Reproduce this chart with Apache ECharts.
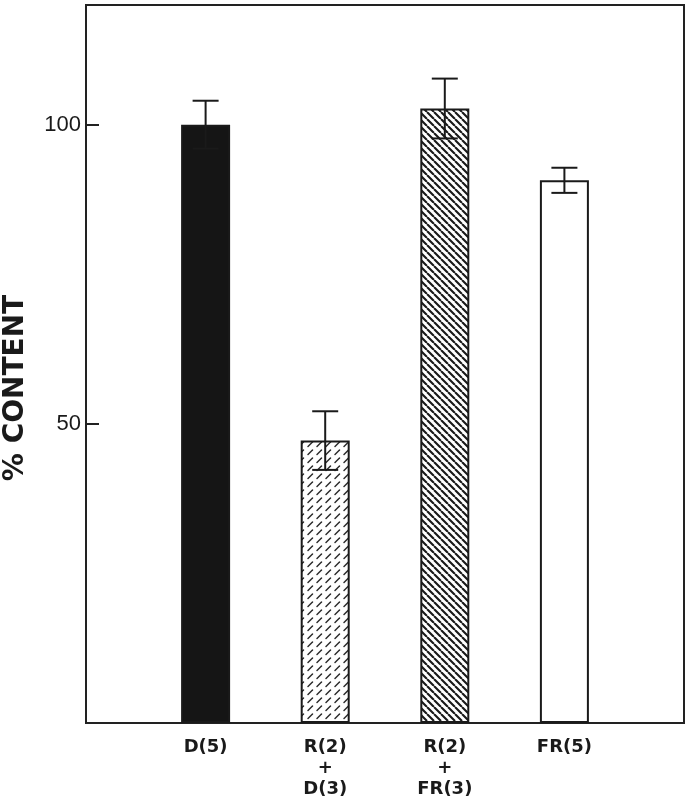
<!DOCTYPE html>
<html>
<head>
<meta charset="utf-8">
<script src="https://cdn.jsdelivr.net/npm/echarts@6/dist/echarts.min.js"></script>
<style>
html,body{margin:0;padding:0;background:#fff;}
#chart{width:691px;height:802px;}
</style>
</head>
<body>
<div id="chart"></div>
<script>
// Data
const categories = ['D(5)', 'R(2)\n+\nD(3)', 'R(2)\n+\nFR(3)', 'FR(5)'];
const positions = [1, 2, 3, 4];
const values = [100, 47.2, 102.7, 90.7];
const errors = [4, 4.9, 5, 2.1];
const yTicks = [50, 100];
const yTitle = '% CONTENT';

function makePattern(kind) {
  const c = document.createElement('canvas');
  const ctx = c.getContext('2d');
  if (kind === 'dense') {
    const p = 7;
    c.width = p; c.height = p;
    ctx.fillStyle = '#fff'; ctx.fillRect(0, 0, p, p);
    ctx.strokeStyle = '#1a1a1a'; ctx.lineWidth = 2.1;
    ctx.beginPath();
    for (let k = -1; k <= 1; k++) {
      ctx.moveTo(k * p, 0); ctx.lineTo(k * p + p, p);
    }
    ctx.stroke();
  } else if (kind === 'dashed') {
    const w = 9, h = 8;
    c.width = w; c.height = h;
    ctx.fillStyle = '#fff'; ctx.fillRect(0, 0, w, h);
    ctx.strokeStyle = '#2a2a2a'; ctx.lineWidth = 1.5;
    ctx.lineCap = 'round';
    ctx.beginPath();
    ctx.moveTo(2, 6.5); ctx.lineTo(6.5, 2);
    ctx.stroke();
  }
  return c;
}

const fills = [
  '#151515',
  { image: makePattern('dashed'), repeat: 'repeat' },
  { image: makePattern('dense'), repeat: 'repeat' },
  '#ffffff'
];

const barData = positions.map((x, i) => ({
  value: [x, values[i]],
  itemStyle: { color: fills[i], borderColor: '#1a1a1a', borderWidth: 2 }
}));
const errData = positions.map((x, i) => [x, values[i] - errors[i], values[i] + errors[i]]);

const chart = echarts.init(document.getElementById('chart'), null, { renderer: 'canvas' });
chart.setOption({
  animation: false,
  backgroundColor: '#ffffff',
  grid: {
    left: 86, right: 7, top: 5, bottom: 79,
    containLabel: false, outerBoundsMode: 'none',
    show: true, borderColor: '#222', borderWidth: 2, backgroundColor: 'transparent'
  },
  graphic: [{
    type: 'text', x: 16, y: 388, rotation: Math.PI / 2,
    style: {
      text: yTitle, fontFamily: 'DejaVu Sans', fontWeight: 'bold', fontSize: 28,
      fill: '#1a1a1a', align: 'center', verticalAlign: 'middle'
    }
  }],
  xAxis: {
    type: 'value', min: 0, max: 5, interval: 1,
    splitLine: { show: false },
    axisLine: { show: true, lineStyle: { color: '#222', width: 2 } },
    axisTick: { show: false },
    axisLabel: {
      customValues: positions,
      formatter: v => categories[positions.indexOf(v)] || '',
      fontFamily: 'DejaVu Sans', fontWeight: 'bold', fontSize: 18,
      lineHeight: 21, color: '#1a1a1a', margin: 14
    }
  },
  yAxis: {
    type: 'value', min: 0, max: 120, interval: 50,
    splitLine: { show: false },
    axisLine: { show: true, lineStyle: { color: '#222', width: 2 } },
    axisTick: { show: true, inside: true, length: 13, customValues: yTicks, lineStyle: { color: '#222', width: 2 } },
    axisLabel: {
      customValues: yTicks,
      fontFamily: 'Liberation Sans', fontSize: 22, color: '#1a1a1a', margin: 5
    }
  },
  series: [
    {
      type: 'bar', barWidth: 49, data: barData, z: 2
    },
    {
      type: 'custom', z: 5, data: errData,
      renderItem: function (params, api) {
        const x = api.value(0);
        const lo = api.coord([x, api.value(1)]);
        const hi = api.coord([x, api.value(2)]);
        const hw = 13;
        const style = { stroke: '#1a1a1a', lineWidth: 2 };
        return {
          type: 'group',
          children: [
            { type: 'line', shape: { x1: hi[0], y1: hi[1], x2: lo[0], y2: lo[1] }, style: style },
            { type: 'line', shape: { x1: hi[0] - hw, y1: hi[1], x2: hi[0] + hw, y2: hi[1] }, style: style },
            { type: 'line', shape: { x1: lo[0] - hw, y1: lo[1], x2: lo[0] + hw, y2: lo[1] }, style: style }
          ]
        };
      }
    }
  ]
});
</script>
</body>
</html>
